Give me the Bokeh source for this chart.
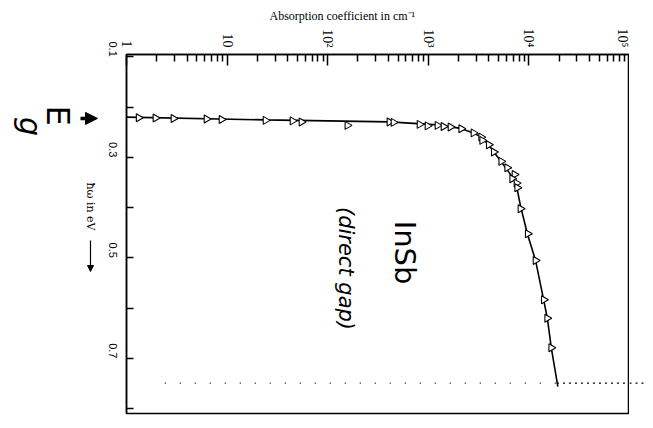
import math
from bokeh.plotting import figure
from bokeh.layouts import row
from bokeh.models import (Range1d, FixedTicker, Label, Arrow, NormalHead, ColumnDataSource)
from bokeh.embed import file_html
from bokeh.resources import INLINE

# ---- data ----
# measured points: absorption coefficient (cm^-1) vs photon energy (eV)
pts_alpha = [1.32, 1.94, 2.93, 6.24, 8.8, 24.1, 44.7, 54.9, 157, 411, 451, 818, 982,
             1234, 1416, 1662, 2125, 2813, 3357, 3434, 3994, 4480, 5310, 6085, 7193,
             6824, 7530, 7655, 8243, 9746, 11640, 14070, 15200, 16670]
pts_E = [0.2212, 0.2216, 0.2226, 0.2236, 0.2246, 0.2265, 0.2275, 0.2299, 0.2365, 0.2299,
         0.2305, 0.2345, 0.2375, 0.2365, 0.2385, 0.2395, 0.2431, 0.2514, 0.2598, 0.2663,
         0.2749, 0.2896, 0.3081, 0.3207, 0.3340, 0.3425, 0.3513, 0.3604, 0.4022, 0.4520,
         0.5051, 0.5833, 0.6199, 0.6788]

# drawn (fitted) curve
curve_alpha = [1.0, 24, 411, 1234, 2100, 2813, 3300, 3950, 4480, 5200, 6900, 7500, 8240,
               9650, 11640, 14000, 15250, 16700, 19400]
curve_E = [0.220, 0.2255, 0.2295, 0.2355, 0.2425, 0.2514, 0.259, 0.2743, 0.2896, 0.3062,
           0.340, 0.355, 0.396, 0.452, 0.505, 0.583, 0.620, 0.679, 0.756]

# dotted reference line energy and band-gap marker energy
gap_line_E = 0.749
eg_E = 0.2226

x_ticks = [1, 10, 100, 1000, 10000, 100000]
x_tick_labels = ["1", "10", "10\u00b2", "10\u00b3", "10\u2074", "10\u2075"]
y_major = [0.1, 0.3, 0.5, 0.7]
y_minor = [0.2, 0.4, 0.6, 0.8]

title_text = "Absorption coefficient in cm\u207b\u00b9"
y_title = "\u0127\u03c9 in eV"

# ---- geometry ----
H = 420
LW = 98                              # width of the left annotation strip
RW = 20                              # width of the right strip (dotted line overhang)
FL, FT, FR, FB = 126, 54, 629, 413   # frame edges on the page
W = FR - LW
E_TOP, E_BOT = 0.0955, 0.8095


def ey(py):
    # page y -> energy (same scale as the main frame)
    return E_TOP + (py - FT) * (E_BOT - E_TOP) / (FB - FT)


# ---- main figure ----
p = figure(width=W, height=H, x_axis_type="log", x_axis_location="above",
           y_axis_location="left",
           x_range=Range1d(1, 1e5), y_range=Range1d(E_BOT, E_TOP),
           output_backend="svg", toolbar_location=None,
           title=title_text, title_location="above",
           min_border_left=FL - LW, min_border_right=0, min_border_top=FT,
           min_border_bottom=H - FB)
p.background_fill_color = "white"
p.border_fill_color = "white"
p.outline_line_color = "black"
p.outline_line_width = 1.5
p.xgrid.visible = False
p.ygrid.visible = False

p.title.align = "left"
p.title.offset = 143
p.title.text_font = "Liberation Serif"
p.title.text_font_size = "12px"
p.title.text_font_style = "normal"
p.title.text_color = "black"
p.title.standoff = 5

minor_x = [k * 10 ** n for n in range(0, 5) for k in range(2, 10)]
xa = p.xaxis[0]
xa.ticker = FixedTicker(ticks=x_ticks, minor_ticks=minor_x)
xa.major_label_overrides = {t: l for t, l in zip(x_ticks, x_tick_labels)}
xa.major_label_orientation = -math.pi / 2
xa.major_tick_in = 11
xa.major_tick_out = 0
xa.minor_tick_in = 7
xa.minor_tick_out = 0
xa.major_tick_line_width = 1.5
xa.minor_tick_line_width = 1.5
xa.axis_line_width = 1.5
xa.major_label_text_font = "Liberation Serif"
xa.major_label_text_font_size = "14px"
xa.major_label_text_color = "black"
xa.major_label_standoff = 7

ya = p.yaxis[0]
ya.ticker = FixedTicker(ticks=y_major, minor_ticks=y_minor)
ya.major_label_orientation = -math.pi / 2
ya.major_tick_in = 7
ya.major_tick_out = 0
ya.minor_tick_in = 7
ya.minor_tick_out = 0
ya.major_tick_line_width = 1.5
ya.minor_tick_line_width = 1.5
ya.axis_line_width = 1.5
ya.major_label_text_font = "Liberation Sans"
ya.major_label_text_font_size = "11px"
ya.major_label_text_color = "black"
ya.major_label_standoff = 14

# dotted line
p.line([2.4, 19000], [gap_line_E, gap_line_E], line_color="black", line_width=1.3,
       line_dash="1 14")
p.line([19000, 1e5], [gap_line_E, gap_line_E], line_color="black", line_width=1.3,
       line_dash="2 4")

# curve and points
p.line(curve_alpha, curve_E, line_color="black", line_width=1.6)
src = ColumnDataSource(dict(a=pts_alpha, e=pts_E))
p.scatter("a", "e", source=src, marker="triangle", size=8, angle=-math.pi / 2,
          fill_color="white", line_color="black", line_width=1.1)


def ax(px):
    return 10 ** ((px - FL) / ((FR - FL) / 5.0))


# handwritten annotations inside the frame
for px, py, t, sz, st in [(404, 252, "InSb", "29px", "normal"),
                          (345, 268, "(direct gap)", "21px", "italic")]:
    p.add_layout(Label(x=ax(px), y=ey(py), text=t, angle=-math.pi / 2,
                       text_align="center", text_baseline="middle",
                       text_font="DejaVu Sans", text_font_size=sz,
                       text_font_style=st, text_color="black"))


def strip(width):
    f = figure(width=width, height=H, x_range=Range1d(0, width), y_range=p.y_range,
               output_backend="svg", toolbar_location=None,
               x_axis_location=None, y_axis_location=None,
               min_border_left=0, min_border_right=0, min_border_top=FT,
               min_border_bottom=H - FB)
    f.outline_line_color = None
    f.background_fill_color = "white"
    f.border_fill_color = "white"
    f.xgrid.visible = False
    f.ygrid.visible = False
    return f


# ---- left annotation strip (x in page px, y shared energy range) ----
q = strip(LW)


def qlab(px, e, text, size, font="DejaVu Sans", style="normal"):
    q.add_layout(Label(x=px, y=e, text=text, angle=-math.pi / 2, text_align="center",
                       text_baseline="middle", text_font=font, text_font_size=size,
                       text_font_style=style, text_color="black"))


def qarr(x0, e0, x1, e1, lw, hs):
    q.add_layout(Arrow(x_start=x0, y_start=e0, x_end=x1, y_end=e1,
                       line_width=lw, line_color="black",
                       end=NormalHead(size=hs, fill_color="black", line_color="black")))


qlab(57, ey(115), "E", "32px")
qlab(30, ey(126), "g", "30px", style="italic")
qarr(80, eg_E, 97, eg_E, 3.5, 12)
qlab(90, ey(206), y_title, "11px", font="DejaVu Serif")
qarr(90, ey(240), 90, ey(271), 1.2, 6)

# ---- right strip: dotted line running past the frame ----
r = strip(RW)
r.line([0, RW - 2], [gap_line_E, gap_line_E], line_color="black", line_width=1.3,
       line_dash="2 4")

layout = row(q, p, r, spacing=0)
open("out.html", "w").write(file_html(layout, INLINE))
